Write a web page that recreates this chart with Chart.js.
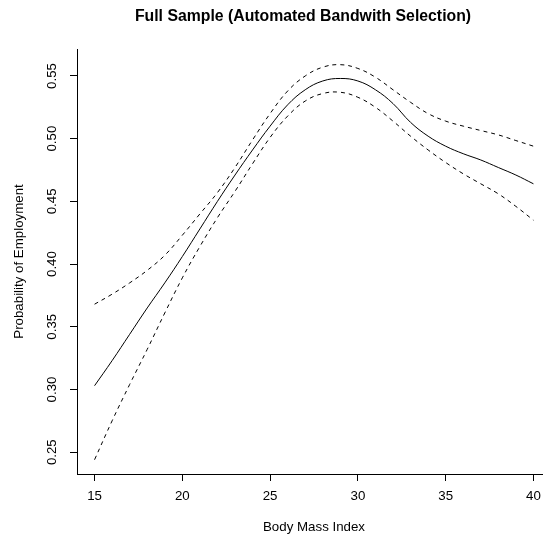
<!DOCTYPE html>
<html>
<head>
<meta charset="utf-8">
<script src="https://cdn.jsdelivr.net/npm/chart.js@4"></script>
<style>
  html, body { margin: 0; padding: 0; background: #fff; overflow: hidden; }
  #wrap { width: 543px; height: 543px; overflow: hidden; }
</style>
</head>
<body>
<div id="wrap"><canvas id="bmiChart" width="551" height="543"></canvas></div>
<script>
// values
const bmi = [15, 16, 17, 18, 19, 20, 21, 22, 23, 24, 25, 26, 27, 28, 29, 30, 31, 32, 33, 34, 35, 36, 37, 38, 39, 40];
const probFit = [0.303, 0.323, 0.344, 0.365, 0.385, 0.406, 0.428, 0.450, 0.471, 0.491, 0.510, 0.527, 0.539, 0.546, 0.548, 0.546, 0.539, 0.528, 0.513, 0.502, 0.494, 0.488, 0.483, 0.477, 0.471, 0.464];
const upperBand = [0.368, 0.376, 0.385, 0.395, 0.407, 0.423, 0.440, 0.457, 0.477, 0.499, 0.520, 0.538, 0.550, 0.557, 0.559, 0.556, 0.549, 0.539, 0.529, 0.520, 0.514, 0.510, 0.5065, 0.503, 0.4985, 0.494];
const lowerBand = [0.244, 0.275, 0.304, 0.332, 0.361, 0.389, 0.414, 0.437, 0.458, 0.480, 0.501, 0.518, 0.530, 0.536, 0.537, 0.533, 0.525, 0.514, 0.502, 0.491, 0.481, 0.472, 0.464, 0.456, 0.446, 0.435];
const xTicks = [15, 20, 25, 30, 35, 40];
const yTicks = [0.25, 0.30, 0.35, 0.40, 0.45, 0.50, 0.55];

const FONT = "'Liberation Sans', Arial, Helvetica, sans-serif";

function pts(ys) {
  return bmi.map((x, i) => ({ x: x, y: ys[i] }));
}

// main title, R style
const mainTitle = {
  id: 'mainTitle',
  afterDraw(chart) {
    const ctx = chart.ctx;
    ctx.save();
    ctx.fillStyle = '#000';
    ctx.font = 'bold 15.8px ' + FONT;
    ctx.textAlign = 'center';
    ctx.textBaseline = 'middle';
    ctx.fillText('Full Sample (Automated Bandwith Selection)', 303, 17);
    ctx.restore();
  }
};

const lineStyle = { borderColor: '#000', borderWidth: 1, pointRadius: 0, tension: 0.4, fill: false };

new Chart(document.getElementById('bmiChart'), {
  type: 'line',
  data: {
    datasets: [
      Object.assign({ label: 'fit', data: pts(probFit) }, lineStyle),
      Object.assign({ label: 'upper', data: pts(upperBand), borderDash: [4, 4] }, lineStyle),
      Object.assign({ label: 'lower', data: pts(lowerBand), borderDash: [4, 4] }, lineStyle)
    ]
  },
  options: {
    responsive: false,
    animation: false,
    // canvas is a bit wider than the page: plot region runs past the right edge like the cropped original
    layout: { padding: { top: 49, left: 0, right: 0, bottom: 0 } },
    plugins: { legend: { display: false }, title: { display: false }, tooltip: { enabled: false } },
    scales: {
      x: {
        type: 'linear',
        min: 14,
        max: 41,
        afterBuildTicks(s) { s.ticks = xTicks.map(v => ({ value: v })); },
        afterFit(s) { s.height = 69; },
        border: { display: true, color: '#000', width: 1 },
        grid: { drawOnChartArea: false, drawTicks: true, tickLength: 7, color: '#000' },
        ticks: { color: '#000', font: { family: FONT, size: 13.3 }, padding: 7, maxRotation: 0 },
        title: { display: true, text: 'Body Mass Index', color: '#000', font: { family: FONT, size: 13.3 }, padding: { bottom: 8, top: 0 } }
      },
      y: {
        type: 'linear',
        min: 0.2326,
        max: 0.5715,
        afterBuildTicks(s) { s.ticks = yTicks.map(v => ({ value: v })); },
        afterFit(s) { s.width = 77; },
        border: { display: true, color: '#000', width: 1 },
        grid: { drawOnChartArea: false, drawTicks: true, tickLength: 7, color: '#000' },
        ticks: {
          color: '#000', font: { family: FONT, size: 13.3 }, padding: 5,
          minRotation: 90, maxRotation: 90, crossAlign: 'center',
          callback: v => v.toFixed(2)
        },
        title: { display: true, text: 'Probability of Employment', color: '#000', font: { family: FONT, size: 13.3 }, padding: { top: 11, bottom: 0 } }
      }
    }
  },
  plugins: [mainTitle]
});
</script>
</body>
</html>
